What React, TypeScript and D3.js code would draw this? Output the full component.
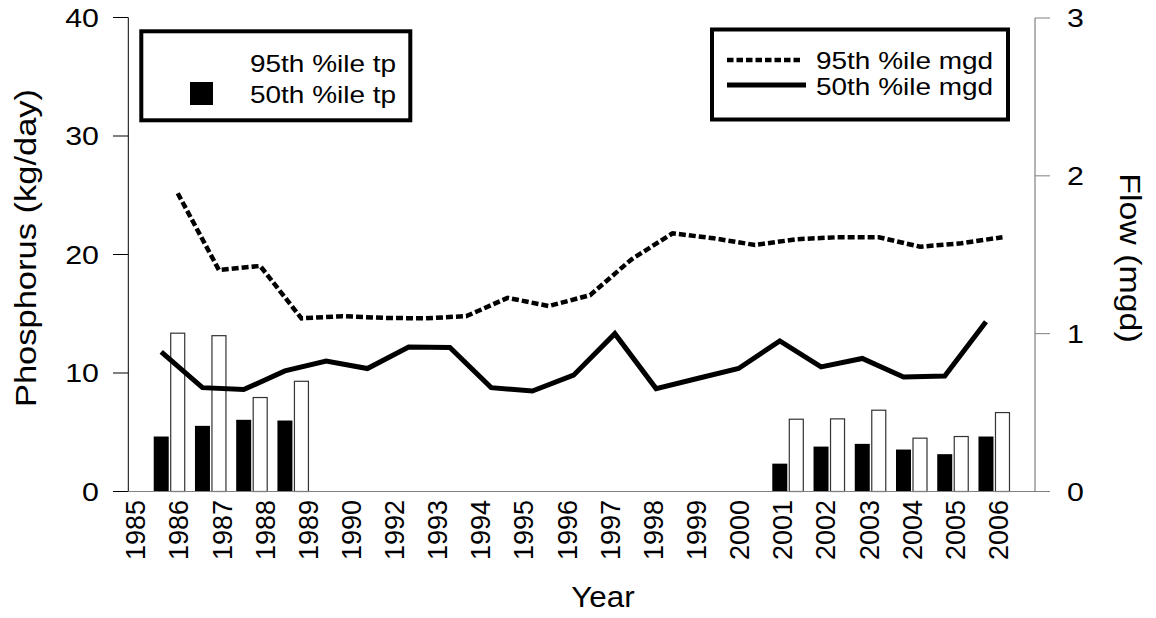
import React from "react";
import * as d3 from "d3";

const categories = ["1985","1986","1987","1988","1989","1990","1992","1993","1994","1995","1996","1997","1998","1999","2000","2001","2002","2003","2004","2005","2006"];
const tp50: (number | null)[] = [4.64, 5.54, 6.05, 5.99, null, null, null, null, null, null, null, null, null, null, null, 2.35, 3.79, 4.02, 3.54, 3.15, 4.64];
const tp95: (number | null)[] = [13.36, 13.15, 7.93, 9.3, null, null, null, null, null, null, null, null, null, null, null, 6.1, 6.13, 6.86, 4.5, 4.64, 6.66];
const mgd50 = [0.884, 0.658, 0.646, 0.764, 0.827, 0.779, 0.916, 0.912, 0.658, 0.637, 0.737, 1.0, 0.652, 0.716, 0.779, 0.954, 0.789, 0.843, 0.726, 0.732, 1.075];
const mgd95 = [1.89, 1.403, 1.429, 1.097, 1.111, 1.1, 1.097, 1.111, 1.227, 1.175, 1.244, 1.47, 1.636, 1.604, 1.562, 1.598, 1.611, 1.611, 1.551, 1.573, 1.611];
const leftTicks = [0, 10, 20, 30, 40];
const rightTicks = [0, 1, 2, 3];

const FONT = "'Liberation Sans', Arial, sans-serif";

type TP = { x: number; y: number; rot?: number; sx?: number; size: number; anchor?: "start" | "middle" | "end"; dy?: string; children: React.ReactNode };
function T({ x, y, rot = 0, sx = 1, size, anchor = "start", dy, children }: TP) {
  return (
    <text transform={`translate(${x},${y}) rotate(${rot}) scale(${sx},1)`} fontSize={size} textAnchor={anchor} dy={dy} fill="#000">
      {children}
    </text>
  );
}

export default function App() {
  const W = 1156, H = 618;
  const xBand = d3.scaleBand<string>().domain(categories).range([140.6, 1006.6]);
  const xLabel = d3.scalePoint<string>().domain(categories).range([135.5, 998.3]);
  const yL = d3.scaleLinear().domain([0, 40]).range([491.5, 17.5]);
  const yR = d3.scaleLinear().domain([0, 3]).range([491.5, 18]);
  const bw = xBand.bandwidth();
  const cx = (c: string) => (xBand(c) as number) + bw / 2;

  const solid = d3.line<number>().x((_, i) => cx(categories[i])).y((d) => yR(d));
  const dashed = d3.line<number>().x((_, i) => cx(categories[i]) + 16.5).y((d) => yR(d));

  return (
    <svg width={W} height={H} style={{ position: "absolute", left: 0, top: 0, background: "#fff" }} fontFamily={FONT}>
      <rect width={W} height={H} fill="#fff" />
      {/* bars */}
      {categories.map((c, i) => (
        <g key={c}>
          {tp50[i] != null && (
            <rect x={cx(c) - 7.5} y={yL(tp50[i] as number)} width={15} height={yL(0) - yL(tp50[i] as number)} fill="#000" />
          )}
          {tp95[i] != null && (
            <rect x={cx(c) + 9.5} y={yL(tp95[i] as number)} width={14} height={yL(0) - yL(tp95[i] as number)} fill="#fff" stroke="#333" strokeWidth={1.2} />
          )}
        </g>
      ))}
      {/* lines */}
      <path d={solid(mgd50) || ""} fill="none" stroke="#000" strokeWidth={5} strokeLinejoin="miter" />
      <path d={dashed(mgd95) || ""} fill="none" stroke="#000" strokeWidth={4.5} strokeDasharray="7 3" />
      {/* left axis */}
      <line x1={128.3} x2={128.3} y1={yL(40)} y2={yL(0)} stroke="#000" strokeWidth={1} />
      {leftTicks.map((t) => (
        <g key={t}>
          <line x1={113} x2={128.3} y1={yL(t)} y2={yL(t)} stroke="#000" strokeWidth={1} />
          <T x={99} y={yL(t)} dy="0.36em" anchor="end" size={25.5} sx={1.19}>{t}</T>
        </g>
      ))}
      {/* right axis */}
      <line x1={1035} x2={1035} y1={yR(3)} y2={yR(0)} stroke="#808080" strokeWidth={1.2} />
      {rightTicks.map((t) => (
        <g key={t}>
          <line x1={1035} x2={1050} y1={yR(t)} y2={yR(t)} stroke="#808080" strokeWidth={1} />
          <T x={1067} y={yR(t)} dy="0.36em" anchor="start" size={25.5} sx={1.19}>{t}</T>
        </g>
      ))}
      {/* bottom axis */}
      <line x1={128.3} x2={1035} y1={yL(0)} y2={yL(0)} stroke="#808080" strokeWidth={1.2} />
      {categories.map((c) => (
        <T key={c} x={xLabel(c) as number} y={500} rot={-90} dy="0.36em" anchor="end" size={27}>{c}</T>
      ))}
      {/* axis titles */}
      <T x={603} y={607} anchor="middle" size={29} sx={1.08}>Year</T>
      <T x={25} y={248} rot={-90} dy="0.36em" anchor="middle" size={30} sx={1.15}>Phosphorus (kg/day)</T>
      <T x={1131} y={258} rot={90} dy="0.36em" anchor="middle" size={30} sx={1.13}>Flow (mgd)</T>
      {/* left legend */}
      <rect x={141.3} y={31.3} width={269} height={89} fill="#fff" stroke="#000" strokeWidth={4} />
      <rect x={190} y={82} width={23} height={23} fill="#000" />
      <T x={250} y={71.7} size={23.3} sx={1.2}>95th %ile tp</T>
      <T x={250} y={103.3} size={23.3} sx={1.2}>50th %ile tp</T>
      {/* right legend */}
      <rect x={712} y={29.5} width={296} height={90} fill="#fff" stroke="#000" strokeWidth={4} />
      <line x1={727} x2={800} y1={60} y2={60} stroke="#000" strokeWidth={4.5} strokeDasharray="6.5 3" />
      <line x1={727} x2={806} y1={85} y2={85} stroke="#000" strokeWidth={5} />
      <T x={816} y={68.5} size={23.3} sx={1.2}>95th %ile mgd</T>
      <T x={816} y={95} size={23.3} sx={1.2}>50th %ile mgd</T>
    </svg>
  );
}
